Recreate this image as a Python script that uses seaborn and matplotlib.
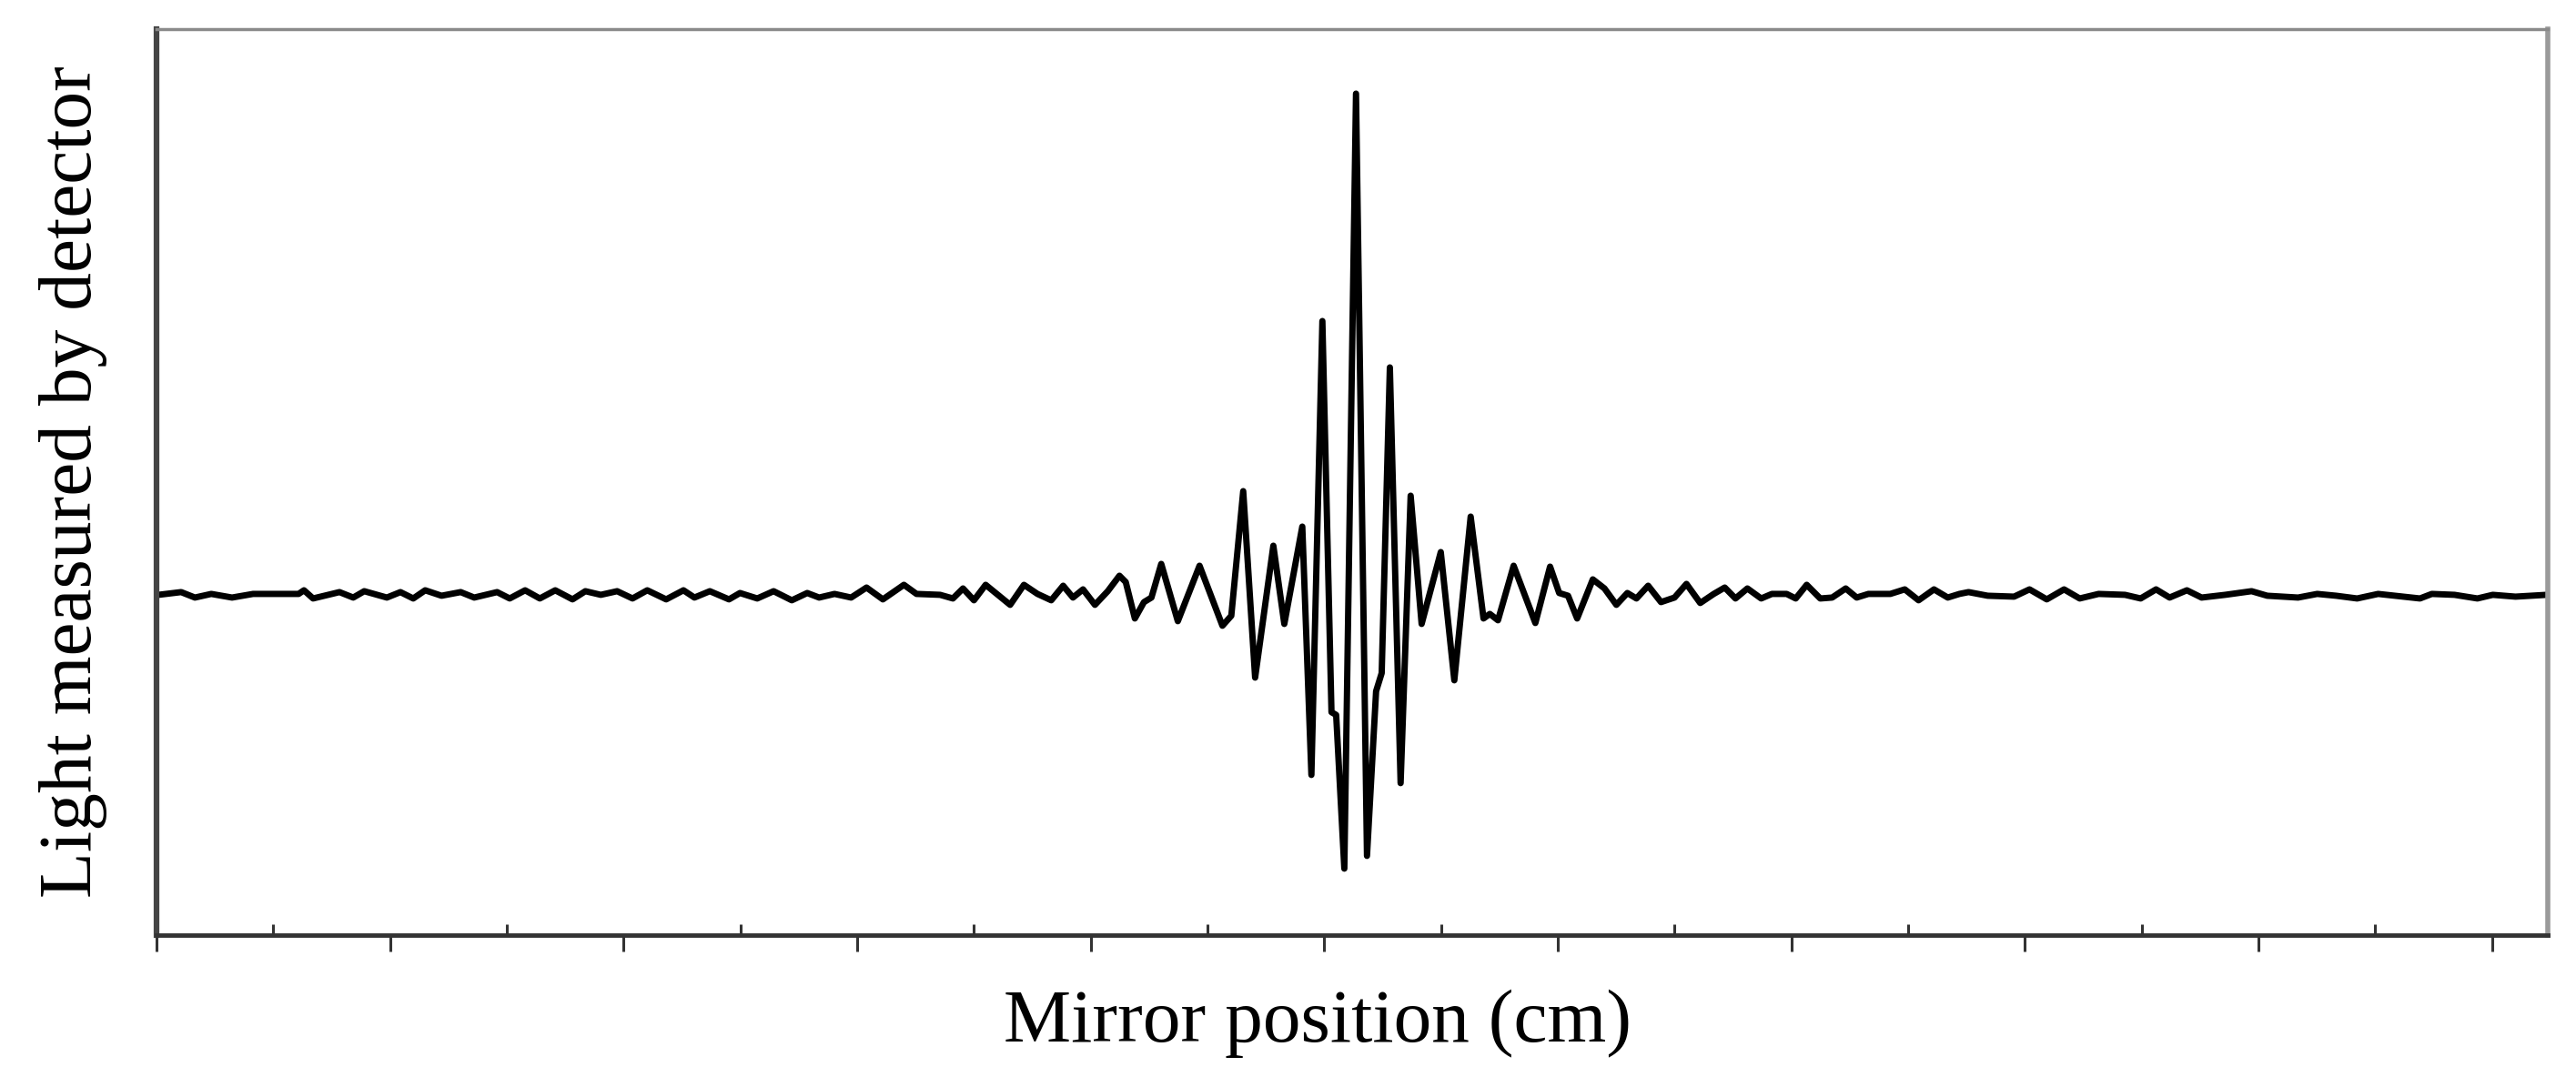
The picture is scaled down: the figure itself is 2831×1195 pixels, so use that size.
import numpy as np
import pandas as pd
import matplotlib
matplotlib.use('Agg')
import matplotlib.pyplot as plt
import seaborn as sns

# ── Data (arbitrary units) ──────────────────────────────────
mirror_pos = [
    0.008, 0.105, 0.164, 0.234, 0.323, 0.413, 0.608, 0.631, 0.670, 0.783,
    0.842, 0.889, 0.986, 1.044, 1.099, 1.150, 1.220, 1.302, 1.360, 1.458,
    1.512, 1.578, 1.641, 1.707, 1.781, 1.836, 1.902, 1.972, 2.038, 2.101,
    2.182, 2.256, 2.303, 2.369, 2.451, 2.498, 2.572, 2.642, 2.720, 2.786,
    2.837, 2.903, 2.974, 3.040, 3.110, 3.200, 3.254, 3.355, 3.410, 3.453,
    3.500, 3.550, 3.655, 3.714, 3.772, 3.831, 3.882, 3.924, 3.967, 4.018,
    4.073, 4.123, 4.150, 4.189, 4.228, 4.260, 4.302, 4.373, 4.466, 4.564,
    4.602, 4.653, 4.704, 4.782, 4.829, 4.906, 4.945, 4.992, 5.031, 5.051,
    5.086, 5.136, 5.183, 5.222, 5.246, 5.281, 5.327, 5.370, 5.417, 5.499,
    5.557, 5.627, 5.682, 5.709, 5.744, 5.811, 5.904, 5.967, 6.006, 6.044,
    6.083, 6.150, 6.200, 6.251, 6.298, 6.337, 6.387, 6.442, 6.500, 6.551,
    6.610, 6.668, 6.715, 6.761, 6.812, 6.871, 6.917, 6.980, 7.019, 7.066,
    7.124, 7.175, 7.233, 7.280, 7.330, 7.424, 7.486, 7.545, 7.611, 7.670,
    7.720, 7.759, 7.841, 7.954, 8.020, 8.094, 8.168, 8.235, 8.316, 8.429,
    8.496, 8.562, 8.620, 8.694, 8.757, 8.858, 8.971, 9.038, 9.170, 9.252,
    9.333, 9.423, 9.513, 9.692, 9.743, 9.840, 9.938, 10.004, 10.101, 10.234,
]
signal = [
    0, 3, -3, 1, -3, 1, 1, 5, -4, 3,
    -3, 4, -3, 3, -4, 5, -1, 3, -3, 3,
    -4, 5, -4, 5, -5, 4, 0, 4, -4, 5,
    -5, 5, -3, 4, -5, 2, -4, 4, -6, 2,
    -3, 1, -3, 8, -5, 11, 1, 0, -4, 7,
    -6, 11, -11, 11, 1, -6, 10, -3, 6, -11,
    4, 21, 14, -26, -8, -3, 34, -29, 32, -34,
    -23, 114, -91, 54, -32, 75, -198, 301, -129, -132,
    -301, 551, -287, -106, -86, 250, -207, 109, -32, 47,
    -94, 86, -26, -21, -28, 32, -31, 31, 2, -1,
    -26, 17, 7, -11, 2, -4, 10, -8, -3, 12,
    -9, 1, 8, -4, 7, -4, 1, 1, -4, 11,
    -4, -3, 7, -3, 1, 1, 6, -6, 6, -3,
    1, 3, -1, -2, 6, -5, 6, -4, 1, 0,
    -4, 6, -3, 5, -3, 0, 4, -1, -3, 1,
    -1, -4, 1, -4, 1, 0, -4, 0, -2, 0,
]

df = pd.DataFrame({'pos': mirror_pos, 'light': signal})

# ── Style ────────────────────────────────────────────────────
sns.set_style('white')
plt.rcParams['font.family'] = ['Liberation Serif', 'DejaVu Serif']
plt.rcParams['lines.solid_joinstyle'] = 'round'

fig = plt.figure(figsize=(28.31, 11.95), dpi=100)
ax = fig.add_axes([0.0608, 0.1398, 0.9283, 0.8335])

sns.lineplot(data=df, x='pos', y='light', color='black', lw=5,
             sort=False, estimator=None, ax=ax)

ax.set_xlim(0, 10.24)
ax.set_ylim(-374, 622)

# major ticks point down, minor ticks point up into the plot
ax.set_xticks(np.arange(0, 10.5, 1))
ax.set_xticks(np.arange(0.5, 10.0, 1), minor=True)
ax.set_yticks([])
ax.tick_params(axis='x', which='major', direction='out', length=13,
               width=2.2, color='#333333', labelbottom=False, bottom=True)
ax.tick_params(axis='x', which='minor', direction='in', length=9,
               width=2.2, color='#333333', bottom=True)

for side, col, w in [('left', '#444444', 4.5), ('bottom', '#333333', 3.5),
                     ('top', '#8a8a8a', 2.5), ('right', '#9a9a9a', 4.0)]:
    ax.spines[side].set_visible(True)
    ax.spines[side].set_color(col)
    ax.spines[side].set_linewidth(w)

ax.set_xlabel('Mirror position (cm)', fontsize=60, color='black')
ax.set_ylabel('Light measured by detector', fontsize=60, color='black')
ax.xaxis.set_label_coords(0.4856, -0.060)
ax.yaxis.set_label_coords(-0.0205, 0.5)

plt.savefig('out.png', dpi=100)
